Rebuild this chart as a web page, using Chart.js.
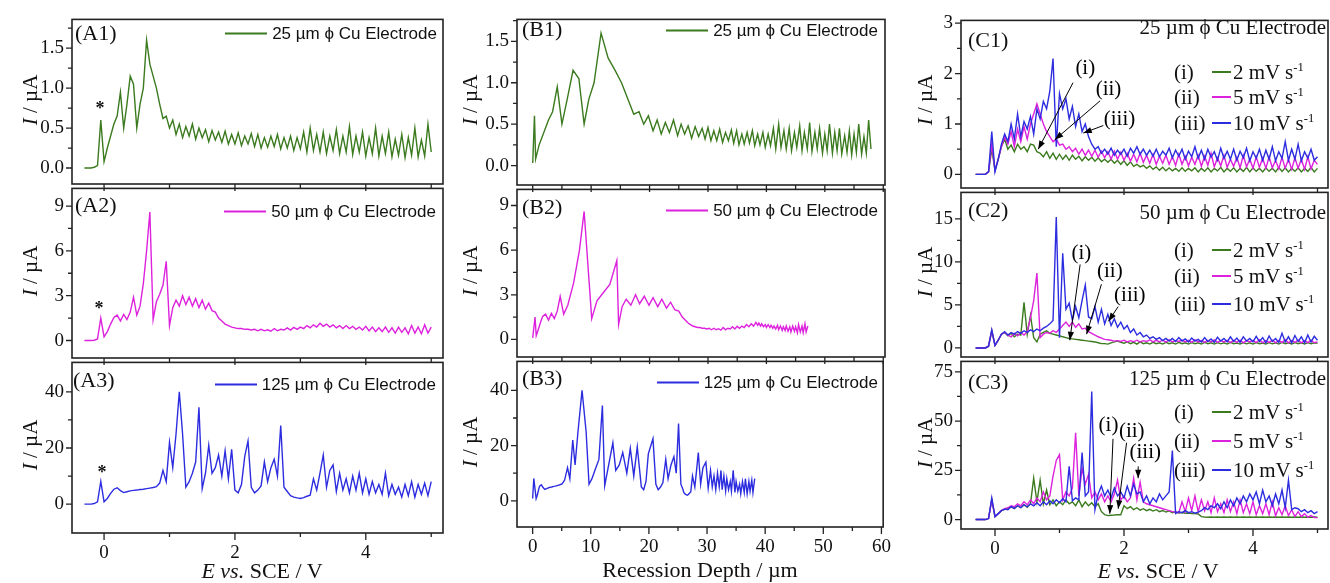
<!DOCTYPE html>
<html>
<head>
<meta charset="utf-8">
<script src="https://cdn.jsdelivr.net/npm/chart.js@4.4.0/dist/chart.umd.min.js"></script>
<style>
body { margin: 0; background: #fff; }
#fig { position: relative; width: 1330px; height: 583px; overflow: hidden; background: #fff; color: #111; }
#fig canvas { position: absolute; }
.t { position: absolute; white-space: nowrap; line-height: 1; }
.t sup { font-size: 0.6em; position: relative; top: -0.1em; vertical-align: top; }
</style>
</head>
<body>
<div id="fig"></div>
<script>
// potential steps (V vs SCE), shared by the A and C traces
const potential = [
  -0.3,-0.25,-0.2,-0.15,-0.1,-0.05,0,0.05,0.1,0.15,
  0.2,0.25,0.3,0.35,0.4,0.45,0.5,0.55,0.6,0.65,
  0.7,0.75,0.8,0.85,0.9,0.95,1.0,1.05,1.1,1.15,
  1.2,1.25,1.3,1.35,1.4,1.45,1.5,1.55,1.6,1.65,
  1.7,1.75,1.8,1.85,1.9,1.95,2.0,2.05,2.1,2.15,
  2.2,2.25,2.3,2.35,2.4,2.45,2.5,2.55,2.6,2.65,
  2.7,2.75,2.8,2.85,2.9,2.95,3.0,3.05,3.1,3.15,
  3.2,3.25,3.3,3.35,3.4,3.45,3.5,3.55,3.6,3.65,
  3.7,3.75,3.8,3.85,3.9,3.95,4.0,4.05,4.1,4.15,
  4.2,4.25,4.3,4.35,4.4,4.45,4.5,4.55,4.6,4.65,
  4.7,4.75,4.8,4.85,4.9,4.95,5.0
];

// recession depth (um) reached at each potential step -> column B
const depth25 = [
  null,null,null,null,0,0.3,0.5,1.1,1.9,2.7,
  3.4,4.2,5.0,5.9,6.9,7.9,8.8,9.6,10.5,11.7,
  12.9,14.1,15.2,16.3,17.3,18.2,19.0,19.8,20.6,21.3,
  22.0,22.7,23.4,24.1,24.8,25.4,26.0,26.6,27.2,27.8,
  28.4,29.0,29.5,30.0,30.5,31.0,31.5,32.0,32.5,33.0,
  33.5,34.0,34.4,34.9,35.3,35.8,36.2,36.7,37.1,37.6,
  38.0,38.5,38.9,39.4,39.8,40.3,40.7,41.2,41.6,42.1,
  42.5,43.0,43.4,43.9,44.3,44.8,45.2,45.7,46.1,46.5,
  47.0,47.4,47.8,48.3,48.7,49.1,49.6,50.0,50.4,50.8,
  51.3,51.7,52.1,52.5,52.9,53.4,53.8,54.2,54.6,55.0,
  55.4,55.8,56.3,56.7,57.1,57.5,57.9
];
const depth50 = [
  null,null,null,null,0,0.4,0.6,0.9,1.3,1.7,
  2.2,2.7,3.2,3.7,4.2,4.7,5.3,6.0,7.0,8.0,
  8.8,10.1,11.0,12.0,13.2,14.4,14.7,15.3,16.0,16.8,
  17.6,18.3,19.1,19.9,20.6,21.4,22.1,22.9,23.6,24.3,
  25.0,25.6,26.1,26.6,27.0,27.4,27.8,28.2,28.6,29.0,
  29.4,29.8,30.2,30.6,31.0,31.4,31.8,32.2,32.6,33.0,
  33.4,33.8,34.2,34.6,35.0,35.4,35.8,36.2,36.6,37.0,
  37.4,37.8,38.2,38.5,38.7,39.0,39.2,39.5,39.8,40.0,
  40.3,40.6,40.8,41.1,41.3,41.6,41.9,42.1,42.4,42.7,
  42.9,43.2,43.4,43.7,44.0,44.2,44.5,44.8,45.0,45.3,
  45.5,45.8,46.1,46.3,46.6,46.8,47.1
];
const depth125 = [
  null,null,null,null,0,0.2,0.6,0.8,1.0,1.2,
  1.5,1.8,2.1,2.4,2.7,3.0,3.3,3.6,3.9,4.2,
  4.5,4.8,5.1,5.5,6.0,6.4,6.9,7.3,7.8,8.5,
  9.2,9.7,10.2,10.7,11.4,12.0,12.4,12.9,13.8,14.3,
  14.9,15.5,16.2,16.8,17.4,18.0,18.7,19.1,19.5,19.9,
  20.7,21.2,21.6,22.0,22.4,22.9,23.3,23.8,24.3,24.7,
  25.1,25.5,25.8,26.0,26.2,26.4,26.6,26.8,27.0,27.2,
  27.5,27.9,28.2,28.5,28.9,29.3,29.8,30.2,30.6,30.9,
  31.2,31.5,31.8,32.1,32.4,32.6,32.9,33.2,33.4,33.7,
  34.0,34.2,34.5,34.8,35.0,35.3,35.6,35.8,36.1,36.4,
  36.6,36.9,37.2,37.4,37.7,37.9,38.2
];

// current (uA) of the single sweeps, columns A and B
const cu25 = [
  0,0,0,0.01,0.03,0.6,0.08,0.25,0.4,0.55,
  0.65,0.95,0.5,0.8,1.15,1.05,0.5,0.8,1.0,1.6,
  1.3,1.15,1.0,0.8,0.62,0.65,0.5,0.6,0.42,0.55,
  0.38,0.52,0.4,0.55,0.36,0.5,0.38,0.48,0.33,0.47,
  0.35,0.45,0.32,0.46,0.3,0.42,0.3,0.44,0.28,0.4,
  0.3,0.43,0.27,0.42,0.25,0.38,0.26,0.4,0.27,0.42,
  0.24,0.38,0.25,0.4,0.22,0.38,0.24,0.45,0.2,0.5,
  0.22,0.42,0.2,0.45,0.18,0.4,0.22,0.48,0.18,0.4,
  0.2,0.52,0.17,0.4,0.2,0.45,0.15,0.38,0.18,0.5,
  0.15,0.4,0.18,0.45,0.14,0.36,0.16,0.42,0.13,0.38,
  0.16,0.5,0.14,0.35,0.15,0.55,0.2
];
const cu50 = [
  0,0,0,0.02,0.1,1.5,0.25,0.6,1.1,1.55,
  1.7,1.3,1.75,1.4,1.9,2.9,1.7,2.3,3.8,6.0,
  8.6,1.4,2.6,3.1,3.7,5.3,1.0,2.2,2.7,2.3,
  3.0,2.4,2.9,2.3,2.8,2.2,2.7,2.1,2.5,2.0,
  1.9,1.5,1.3,1.1,1.0,0.9,0.85,0.8,0.8,0.75,
  0.75,0.7,0.75,0.65,0.75,0.65,0.72,0.62,0.8,0.65,
  0.75,0.7,0.85,0.7,0.88,0.75,0.9,0.8,1.0,0.85,
  1.05,0.9,1.15,0.95,1.1,0.9,1.05,0.85,1.0,0.8,
  1.0,0.8,0.95,0.75,0.9,0.7,0.95,0.65,0.9,0.6,
  0.85,0.6,0.9,0.55,0.85,0.5,0.9,0.55,0.85,0.45,
  1.0,0.5,0.9,0.45,1.05,0.5,0.9
];
const cu125 = [
  0,0,0,0.2,0.8,8.1,0.8,2.0,3.8,5.3,
  5.8,4.8,4.1,4.4,4.7,4.9,5.0,5.2,5.3,5.5,
  5.7,5.9,6.2,7.5,12,8,22,13,25,40,
  25,6,8,11,15,34.5,5.5,11,21,11,
  13,17.5,10,19,9,19.5,5,4,7,17,
  22.5,6,4,5,6.5,15,8,13,16,10,
  28,6,4.5,3,2.5,2.2,2,2.3,2.8,3.2,
  9,5,11,17.5,6,12,14,4.5,11,5,
  9,4,10,5,11,4,9,3.5,8,4,
  7,3.5,11,3,7,3.5,6,2.5,7,3,
  8,2.5,7,3.5,7.5,3,8
];

// scan-rate series (2, 5, 10 mV/s), column C
const c25s2 = [
  0,0,0,0,0.05,0.5,0.08,0.3,0.55,0.7,
  0.5,0.58,0.45,0.6,0.5,0.55,0.45,0.6,0.58,0.45,
  0.42,0.35,0.45,0.32,0.42,0.3,0.4,0.3,0.38,0.28,
  0.38,0.3,0.36,0.27,0.35,0.28,0.34,0.26,0.33,0.25,
  0.3,0.24,0.3,0.22,0.28,0.2,0.27,0.18,0.25,0.16,
  0.2,0.15,0.18,0.12,0.17,0.1,0.15,0.08,0.14,0.07,
  0.13,0.07,0.12,0.06,0.13,0.06,0.12,0.07,0.13,0.05,
  0.12,0.06,0.13,0.05,0.12,0.07,0.14,0.05,0.12,0.06,
  0.13,0.05,0.12,0.06,0.14,0.05,0.13,0.06,0.12,0.05,
  0.13,0.06,0.12,0.05,0.14,0.06,0.13,0.05,0.12,0.06,
  0.13,0.05,0.12,0.06,0.14,0.05,0.12
];
const c25s5 = [
  0,0,0,0,0.05,0.6,0.08,0.3,0.55,0.75,
  0.6,0.85,0.55,0.9,0.65,0.95,0.7,1.0,1.2,1.4,
  1.2,1.0,0.85,0.75,0.65,0.7,0.58,0.6,0.5,0.55,
  0.45,0.52,0.4,0.5,0.38,0.48,0.36,0.48,0.34,0.46,
  0.33,0.45,0.3,0.46,0.3,0.44,0.28,0.42,0.26,0.4,
  0.25,0.42,0.24,0.38,0.22,0.4,0.2,0.36,0.22,0.38,
  0.2,0.35,0.18,0.4,0.2,0.36,0.17,0.34,0.2,0.38,
  0.16,0.36,0.18,0.42,0.15,0.33,0.17,0.38,0.14,0.3,
  0.16,0.34,0.13,0.38,0.15,0.3,0.12,0.35,0.14,0.32,
  0.12,0.35,0.13,0.28,0.11,0.34,0.12,0.3,0.1,0.33,
  0.12,0.3,0.1,0.35,0.11,0.28,0.2
];
const c25s10 = [
  0,0,0,0,0.05,0.85,0.05,0.3,0.6,0.8,
  0.65,1.0,0.7,1.2,0.75,1.05,0.9,1.15,0.8,1.3,
  1.1,1.45,1.3,1.65,2.3,0.55,1.6,1.3,1.5,1.1,
  1.35,0.95,1.2,0.85,1.0,0.75,0.6,0.5,0.55,0.42,
  0.5,0.4,0.52,0.38,0.48,0.4,0.5,0.36,0.52,0.42,
  0.55,0.4,0.5,0.38,0.48,0.36,0.5,0.35,0.46,0.38,
  0.52,0.33,0.48,0.36,0.5,0.3,0.46,0.35,0.55,0.32,
  0.48,0.3,0.5,0.34,0.45,0.28,0.52,0.32,0.46,0.3,
  0.5,0.28,0.46,0.33,0.52,0.27,0.45,0.32,0.5,0.28,
  0.48,0.3,0.55,0.27,0.45,0.32,0.65,0.28,0.5,0.3,
  0.6,0.27,0.45,0.32,0.5,0.28,0.35
];
const c50s2 = [
  0,0,0,0,0.2,2.0,0.3,0.9,1.6,1.8,
  1.4,1.7,1.3,1.6,1.5,5.3,1.6,3.8,1.2,0.7,
  1.6,1.8,2.0,1.7,1.6,1.5,1.4,1.3,1.2,1.1,
  1.05,1.0,0.95,0.9,0.85,0.8,0.75,0.7,0.6,0.5,
  0.5,0.45,0.6,0.7,0.8,0.65,0.55,0.7,0.5,0.65,
  0.45,0.7,0.5,0.6,0.45,0.65,0.5,0.6,0.45,0.65,
  0.5,0.6,0.45,0.65,0.5,0.6,0.45,0.62,0.5,0.6,
  0.45,0.65,0.5,0.6,0.45,0.62,0.48,0.6,0.45,0.65,
  0.5,0.58,0.45,0.62,0.48,0.6,0.45,0.63,0.5,0.58,
  0.45,0.62,0.48,0.6,0.45,0.65,0.5,0.6,0.45,0.62,
  0.5,0.6,0.45,0.62,0.48,0.6,0.55
];
const c50s5 = [
  0,0,0,0,0.2,2.0,0.3,0.9,1.6,1.8,
  1.5,1.3,1.7,1.4,1.8,1.5,1.9,3.5,5.5,8.7,
  1.2,1.6,1.8,1.7,2.0,1.8,2.2,2.6,3.0,2.5,
  3.0,2.4,2.8,2.2,2.3,1.9,1.7,1.5,1.3,1.15,
  1.0,0.95,0.9,0.8,0.85,0.75,0.9,0.7,0.85,0.72,
  0.9,0.7,0.85,0.75,0.95,0.7,0.88,0.72,0.9,0.68,
  0.95,0.7,0.85,0.75,0.92,0.7,0.88,0.65,0.95,0.7,
  0.85,0.65,0.9,0.7,0.95,0.65,0.85,0.7,0.9,0.62,
  0.88,0.65,0.92,0.6,0.85,0.7,0.9,0.62,0.95,0.6,
  0.85,0.65,0.9,0.6,0.88,0.62,0.95,0.6,0.85,0.65,
  0.9,0.6,0.85,0.62,0.9,0.6,0.7
];
const c50s10 = [
  0,0,0,0,0.2,2.1,0.3,0.9,1.6,1.9,
  1.5,1.8,1.6,1.9,1.7,2.0,1.8,2.1,1.9,2.2,
  2.0,2.3,2.5,2.8,3.2,15.2,1.2,11.0,4.5,5.2,
  3.2,4.8,3.5,5.5,7.3,3.6,3.4,4.8,3.0,4.5,
  2.8,3.9,2.6,3.4,2.4,3.0,2.2,2.6,1.8,2.2,
  1.5,1.8,1.3,1.5,1.1,1.3,1.0,1.2,0.85,1.1,
  0.8,1.1,0.75,1.2,0.8,1.05,0.7,1.15,0.8,1.0,
  0.7,1.2,0.75,1.05,0.65,1.25,0.8,1.1,0.7,1.3,
  0.75,1.15,0.65,1.3,0.8,1.1,0.7,1.35,0.75,1.2,
  0.6,1.4,0.75,1.1,0.65,1.7,0.7,1.3,0.6,1.45,
  0.75,1.3,0.6,1.5,0.7,1.35,0.9
];
const c125s2 = [
  0,0,0,0,0.5,10,1.5,3,4.5,5.2,
  5.5,6.5,5.8,7,6,7.5,6.2,8,21,9,
  20,8,15,7.5,10,7,9,7.5,10,8,
  9,7,10,6.5,9,7,8.5,6.5,8,4,
  2.5,2,2.2,2.3,2.5,2.4,7,5.5,6.5,5,
  6,4.8,5.5,4.5,5.2,4.3,5,4,4.6,3.8,
  4.4,3.5,4,3.3,3.6,3.2,3.3,3,3,2.8,
  1.5,1.3,1.2,1.3,1.2,1.3,1.2,1.3,1.2,1.3,
  1.2,1.3,1.2,1.3,1.2,1.3,1.2,1.3,1.2,1.3,
  1.2,1.3,1.2,1.3,1.2,1.3,1.2,1.3,1.2,1.3,
  1.2,1.3,1.2,1.3,1.2,1.3,1.2
];
const c125s5 = [
  0,0,0,0,0.5,10,1.5,3,4.5,5.5,
  6,7,6.5,8,7,9,7.5,10,8,11,
  9,14,10,12,22,30,33,10,14,12,
  16,44,12,26,18,23,11,14,10,13,
  9,12,9,13,20,10,12,9,11,21,
  10,19,9,8,7.5,7,6.5,6,5.5,5,
  4.5,4,3.8,3.5,9,4,11,4.5,12,4,
  10,4.5,9,3.5,11,4,8,3.5,10,4,
  9,3,10,3.5,8,3,9,2.5,7,3,
  8,2.5,9,2,6,2.5,7,2,5,1.5,
  4,1.5,3,1.2,2,1,1
];
const c125s10 = [
  0,0,0,0,0.5,11,1.5,3,4.5,5.3,
  5,6.5,5.5,7,6,7.5,6.5,8,7,8.5,
  7,9,7.5,9.5,8,10,8.5,10.5,9,27,
  9.5,11,10,34,12,14,65,5,13,17,
  12,15,11,16,12,14,11,17,12,18,
  13,14,9,12,8,11,9,13,10,12,
  14,35,3,4,3.5,4.5,3.5,4,3.2,3.8,
  4.5,6,5,7,6,8,5.5,9,6,10,
  7,11,8,12,9,13,10,14,8,15,
  9,12,7,13,8,15,6,20,5,6,
  5.5,4,5,3.5,4.5,3,4
];

// tick values
const ticksE = [0, 2, 4], minorE = [1, 3, 5];
const ticksDepth = [0, 10, 20, 30, 40, 50, 60], minorDepth = [5, 15, 25, 35, 45, 55];
const ticks25 = [0, 0.5, 1, 1.5], minor25 = [0.25, 0.75, 1.25, 1.75];
const ticks50 = [0, 3, 6, 9], minor50 = [1.5, 4.5, 7.5];
const ticks125 = [0, 20, 40], minor125 = [10, 30];
const ticksC1 = [0, 1, 2, 3], minorC1 = [0.5, 1.5, 2.5];
const ticksC2 = [0, 5, 10, 15], minorC2 = [2.5, 7.5, 12.5];
const ticksC3 = [0, 25, 50, 75], minorC3 = [12.5, 37.5, 62.5];

const GREEN = '#3b7a1e', MAGENTA = '#dd22dd', BLUE = '#2d2de0';
const serif = '"Liberation Serif", "Times New Roman", serif';
const sans = '"Liberation Sans", Arial, sans-serif';

const fig = document.getElementById('fig');
const frames = {};

// box, tick marks and the (i)/(ii)/(iii) arrows
const framePlugin = {
  id: 'frame',
  afterDatasetsDraw(chart) {
    const f = frames[chart.canvas.id];
    const ctx = chart.ctx, a = chart.chartArea;
    const sx = chart.scales.x, sy = chart.scales.y;
    ctx.save();
    ctx.strokeStyle = '#222';
    ctx.lineWidth = 1.6;
    ctx.strokeRect(a.left, a.top, a.right - a.left, a.bottom - a.top);
    ctx.lineWidth = 1.3;
    ctx.beginPath();
    const tick = (vals, len, horiz) => vals.forEach(v => {
      if (horiz) {
        const p = sx.getPixelForValue(v);
        ctx.moveTo(p, a.bottom); ctx.lineTo(p, a.bottom + len);
      } else {
        const p = sy.getPixelForValue(v);
        ctx.moveTo(a.left, p); ctx.lineTo(a.left - len, p);
      }
    });
    tick(f.xt, 7, true); tick(f.xm, 4, true);
    tick(f.yt, 6, false); tick(f.ym, 4, false);
    ctx.stroke();
    f.notes.forEach(n => {
      const x0 = sx.getPixelForValue(n.from[0]), y0 = sy.getPixelForValue(n.from[1]);
      const x1 = sx.getPixelForValue(n.to[0]), y1 = sy.getPixelForValue(n.to[1]);
      ctx.strokeStyle = '#000'; ctx.fillStyle = '#000'; ctx.lineWidth = 1;
      ctx.beginPath(); ctx.moveTo(x0, y0); ctx.lineTo(x1, y1); ctx.stroke();
      const ang = Math.atan2(y1 - y0, x1 - x0);
      ctx.beginPath();
      ctx.moveTo(x1, y1);
      ctx.lineTo(x1 - 9 * Math.cos(ang - 0.35), y1 - 9 * Math.sin(ang - 0.35));
      ctx.lineTo(x1 - 9 * Math.cos(ang + 0.35), y1 - 9 * Math.sin(ang + 0.35));
      ctx.closePath(); ctx.fill();
      ctx.font = '21px ' + serif;
      ctx.textAlign = 'center'; ctx.textBaseline = 'middle';
      ctx.fillText(n.text, sx.getPixelForValue(n.x), sy.getPixelForValue(n.y));
    });
    ctx.restore();
  }
};

function series(xs, ys, color) {
  const pts = [];
  xs.forEach((x, i) => { if (x !== null) pts.push({x: x, y: ys[i]}); });
  return {data: pts, borderColor: color, borderWidth: 1.4, pointRadius: 0, fill: false, tension: 0};
}

function panel(id, box, xr, yr, xt, xm, yt, ym, fmt, showX, sets, notes) {
  const cv = document.createElement('canvas');
  cv.id = id;
  const w = box[2] - box[0] + 75, h = box[3] - box[1] + 60;
  cv.width = w; cv.height = h;
  cv.style.left = (box[0] - 60) + 'px';
  cv.style.top = (box[1] - 15) + 'px';
  cv.style.width = w + 'px'; cv.style.height = h + 'px';
  fig.appendChild(cv);
  frames[id] = {xt: xt, xm: xm, yt: yt, ym: ym, notes: notes || []};
  new Chart(cv, {
    type: 'line',
    data: {datasets: sets},
    options: {
      responsive: false, animation: false, devicePixelRatio: 1,
      layout: {padding: {left: 0, top: 15, right: 15, bottom: 0}},
      plugins: {legend: {display: false}, tooltip: {enabled: false}},
      scales: {
        x: {
          type: 'linear', min: xr[0], max: xr[1],
          grid: {display: false, drawTicks: false}, border: {display: false},
          afterBuildTicks: s => { s.ticks = xt.map(v => ({value: v})); },
          afterFit: s => { s.height = 45; },
          ticks: {display: showX, autoSkip: false, maxRotation: 0, padding: 9, color: '#111',
                  font: {family: serif, size: 19}, callback: v => String(v)}
        },
        y: {
          type: 'linear', min: yr[0], max: yr[1],
          grid: {display: false, drawTicks: false}, border: {display: false},
          afterBuildTicks: s => { s.ticks = yt.map(v => ({value: v})); },
          afterFit: s => { s.width = 60; },
          ticks: {autoSkip: false, padding: 8, color: '#111',
                  font: {family: serif, size: 19}, callback: fmt}
        }
      }
    },
    plugins: [framePlugin]
  });
}

const oneDec = v => v.toFixed(1);
const plain = v => String(v);

// column A: current vs potential
panel('a1', [72, 15, 443, 184], [-0.49, 5.18], [-0.2, 1.86], ticksE, minorE, ticks25, minor25, oneDec, false,
  [series(potential, cu25, GREEN)]);
panel('a2', [72, 184, 443, 358], [-0.49, 5.18], [-1.17, 10.18], ticksE, minorE, ticks50, minor50, plain, false,
  [series(potential, cu50, MAGENTA)]);
panel('a3', [72, 358, 443, 533], [-0.49, 5.18], [-10.3, 50.5], ticksE, minorE, ticks125, minor125, plain, true,
  [series(potential, cu125, BLUE)]);

// column B: same sweeps against recession depth
panel('b1', [517, 15, 885, 185], [-2.69, 60.3], [-0.235, 1.765], ticksDepth, minorDepth, ticks25, minor25, oneDec, false,
  [series(depth25, cu25, GREEN)]);
panel('b2', [517, 185, 885, 357], [-2.69, 60.3], [-1.18, 10.08], ticksDepth, minorDepth, ticks50, minor50, plain, false,
  [series(depth50, cu50, MAGENTA)]);
panel('b3', [517, 357, 885, 527], [-2.69, 60.3], [-9.5, 50.5], ticksDepth, minorDepth, ticks125, minor125, plain, true,
  [series(depth125, cu125, BLUE)]);

// column C: three scan rates
panel('c1', [961, 16, 1328, 188], [-0.527, 5.163], [-0.27, 3.056], ticksE, minorE, ticksC1, minorC1, plain, false,
  [series(potential, c25s10, BLUE), series(potential, c25s5, MAGENTA), series(potential, c25s2, GREEN)],
  [{text: '(i)', x: 1.40, y: 2.1, from: [1.21, 1.82], to: [0.67, 0.5]},
   {text: '(ii)', x: 1.76, y: 1.68, from: [1.63, 1.46], to: [0.93, 0.69]},
   {text: '(iii)', x: 1.93, y: 1.08, from: [1.68, 0.97], to: [1.37, 0.82]}]);
panel('c2', [961, 188, 1328, 357], [-0.527, 5.163], [-1.05, 18.07], ticksE, minorE, ticksC2, minorC2, plain, false,
  [series(potential, c50s10, BLUE), series(potential, c50s5, MAGENTA), series(potential, c50s2, GREEN)],
  [{text: '(i)', x: 1.34, y: 11.0, from: [1.32, 9.7], to: [1.16, 0.9]},
   {text: '(ii)', x: 1.78, y: 8.9, from: [1.65, 7.4], to: [1.42, 1.6]},
   {text: '(iii)', x: 2.09, y: 6.1, from: [1.91, 4.8], to: [1.76, 3.1]}]);
panel('c3', [961, 357, 1328, 529], [-0.527, 5.163], [-4.8, 80.3], ticksE, minorE, ticksC3, minorC3, plain, true,
  [series(potential, c125s10, BLUE), series(potential, c125s5, MAGENTA), series(potential, c125s2, GREEN)],
  [{text: '(i)', x: 1.76, y: 48, from: [1.83, 41], to: [1.78, 3]},
   {text: '(ii)', x: 2.12, y: 44.7, from: [2.04, 39], to: [1.91, 5.5]},
   {text: '(iii)', x: 2.33, y: 34, from: [2.22, 27], to: [2.22, 21]}]);

// text overlays
function label(html, x, y, size, anchor, family, extra) {
  const d = document.createElement('div');
  d.className = 't';
  d.innerHTML = html;
  d.style.left = x + 'px';
  d.style.top = y + 'px';
  d.style.fontSize = size + 'px';
  d.style.fontFamily = family || serif;
  const tx = anchor === 'c' ? '-50%' : anchor === 'r' ? '-100%' : '0';
  d.style.transform = 'translate(' + tx + ', -50%)' + (extra || '');
  fig.appendChild(d);
  return d;
}
function legendAB(text, color, right, y) {
  const d = document.createElement('div');
  d.className = 't';
  d.style.right = (1330 - right) + 'px';
  d.style.top = y + 'px';
  d.style.transform = 'translateY(-50%)';
  d.style.fontFamily = sans;
  d.style.fontSize = '17px';
  d.style.display = 'flex';
  d.style.alignItems = 'center';
  d.innerHTML = '<span style="display:inline-block;width:42px;height:2px;background:' + color + ';margin-right:5px"></span>' + text;
  fig.appendChild(d);
}
function legendC(title, yTitle, ys) {
  label(title, 1326, yTitle, 21, 'r');
  const rows = [['(i)', '2', GREEN], ['(ii)', '5', MAGENTA], ['(iii)', '10', BLUE]];
  rows.forEach((r, k) => {
    label(r[0], 1174, ys[k], 21, 'l');
    const ln = document.createElement('div');
    ln.style.cssText = 'position:absolute;left:1212px;width:19px;height:2px;background:' + r[2] + ';top:' + (ys[k] - 1) + 'px';
    fig.appendChild(ln);
    label(r[1] + ' mV s<sup>-1</sup>', 1233, ys[k], 21, 'l');
  });
}

const yTitle = '<i>I</i> / µA';
[[30, 100], [30, 271], [30, 445], [470, 100], [470, 271], [470, 442], [925, 100], [925, 272], [925, 443]]
  .forEach(p => label(yTitle, p[0], p[1], 21, 'c', serif, ' rotate(-90deg)'));
label('<i>E vs.</i> SCE / V', 262, 571, 22, 'c');
label('Recession Depth / µm', 700, 570, 22, 'c');
label('<i>E vs.</i> SCE / V', 1158, 571, 22, 'c');

label('(A1)', 75, 33, 22, 'l'); label('(A2)', 75, 205, 22, 'l'); label('(A3)', 73, 380, 22, 'l');
label('(B1)', 522, 29, 22, 'l'); label('(B2)', 522, 207, 22, 'l'); label('(B3)', 522, 378, 22, 'l');
label('(C1)', 968, 40, 22, 'l'); label('(C2)', 968, 210, 22, 'l'); label('(C3)', 968, 382, 22, 'l');

label('<b>*</b>', 100, 108, 18, 'c'); label('<b>*</b>', 99, 308, 18, 'c'); label('<b>*</b>', 102, 472, 18, 'c');

legendAB('25 µm ϕ Cu Electrode', GREEN, 437, 33);
legendAB('50 µm ϕ Cu Electrode', MAGENTA, 436, 211);
legendAB('125 µm ϕ Cu Electrode', BLUE, 436, 384);
legendAB('25 µm ϕ Cu Electrode', GREEN, 878, 30);
legendAB('50 µm ϕ Cu Electrode', MAGENTA, 878, 210);
legendAB('125 µm ϕ Cu Electrode', BLUE, 878, 382);

legendC('25 µm ϕ Cu Electrode', 27, [72, 97, 123]);
legendC('50 µm ϕ Cu Electrode', 212, [250, 276, 304]);
legendC('125 µm ϕ Cu Electrode', 378, [412, 441, 470]);
</script>
</body>
</html>
